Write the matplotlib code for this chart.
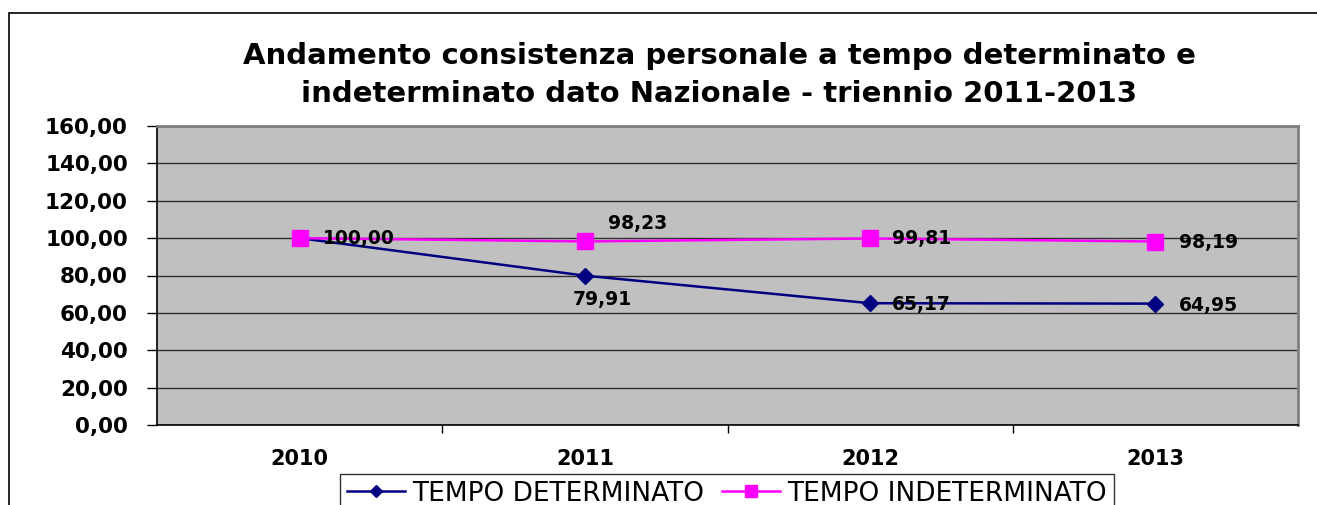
import matplotlib.pyplot as plt
from matplotlib.patches import Rectangle
from matplotlib.ticker import FuncFormatter, FixedLocator

# Dati
anni = ['2010', '2011', '2012', '2013']
tempo_determinato = [100.00, 79.91, 65.17, 64.95]
tempo_indeterminato = [100.00, 98.23, 99.81, 98.19]

titolo = ('Andamento consistenza personale a tempo determinato e\n'
          'indeterminato dato Nazionale - triennio 2011-2013')

fig = plt.figure(figsize=(13.17, 5.05), dpi=100)
ax = fig.add_axes([157 / 1317, 1 - 425 / 505, (1298 - 157) / 1317, (425 - 126) / 505])

# Cornice esterna del grafico
fig.patches.append(Rectangle((9 / 1317, -0.2), 1.2, 1.2 - 13 / 505, transform=fig.transFigure,
                             fill=False, edgecolor='black', linewidth=1.2, clip_on=False))

x = list(range(len(anni)))
ax.set_facecolor('#C0C0C0')
ax.plot(x, tempo_determinato, color='#000080', linewidth=1.8, marker='D', markersize=8,
        label='TEMPO DETERMINATO', zorder=3)
ax.plot(x, tempo_indeterminato, color='#FF00FF', linewidth=1.8, marker='s', markersize=11,
        label='TEMPO INDETERMINATO', zorder=4)

ax.set_xlim(-0.5, 3.5)
ax.set_ylim(0, 160)
ax.set_yticks(range(0, 161, 20))
ax.yaxis.set_major_formatter(FuncFormatter(lambda v, p: f'{v:.2f}'.replace('.', ',')))
ax.grid(axis='y', color='#303030', linewidth=1)
ax.set_axisbelow(True)

ax.set_xticks(x)
ax.set_xticklabels(anni)
ax.xaxis.set_minor_locator(FixedLocator([0.5, 1.5, 2.5]))
ax.tick_params(axis='x', which='major', length=0, pad=17, labelsize=15)
ax.tick_params(axis='x', which='minor', length=6, width=1, color='black')
ax.tick_params(axis='y', length=7, width=1, pad=14, labelsize=15.5)
for lab in ax.get_xticklabels() + ax.get_yticklabels():
    lab.set_fontweight('bold')

for s in ['top', 'right']:
    ax.spines[s].set_color('#808080')
    ax.spines[s].set_linewidth(2)
for s in ['left', 'bottom']:
    ax.spines[s].set_color('black')
    ax.spines[s].set_linewidth(1.2)

# Etichette dei valori (spostamenti in punti)
def fmt(v):
    return f'{v:.2f}'.replace('.', ',')

off_det = [(17, 0), (-9, -17), (16, -1), (17, -1)]
off_ind = [(17, 0), (17, 13), (16, 0), (17, -1)]
for i in x:
    if i > 0:
        ax.annotate(fmt(tempo_determinato[i]), (i, tempo_determinato[i]), textcoords='offset points',
                    xytext=off_det[i], ha='left', va='center', fontsize=13.5, fontweight='bold')
    ax.annotate(fmt(tempo_indeterminato[i]), (i, tempo_indeterminato[i]), textcoords='offset points',
                xytext=off_ind[i], ha='left', va='center', fontsize=13.5, fontweight='bold', zorder=5)

fig.text(719 / 1317, 1 - 75 / 505, titolo, ha='center', va='center', fontsize=21,
         fontweight='bold', linespacing=1.45)

leg = fig.legend(loc='upper center', bbox_to_anchor=(727 / 1317, 1 - 474 / 505), ncol=2,
                 fontsize=19, frameon=True, fancybox=False, edgecolor='black',
                 handlelength=2.2, columnspacing=0.7, handletextpad=0.27, borderpad=0.25,
                 borderaxespad=0, markerscale=0.8)
leg.get_frame().set_linewidth(1)

fig.savefig('out.png', dpi=100)
